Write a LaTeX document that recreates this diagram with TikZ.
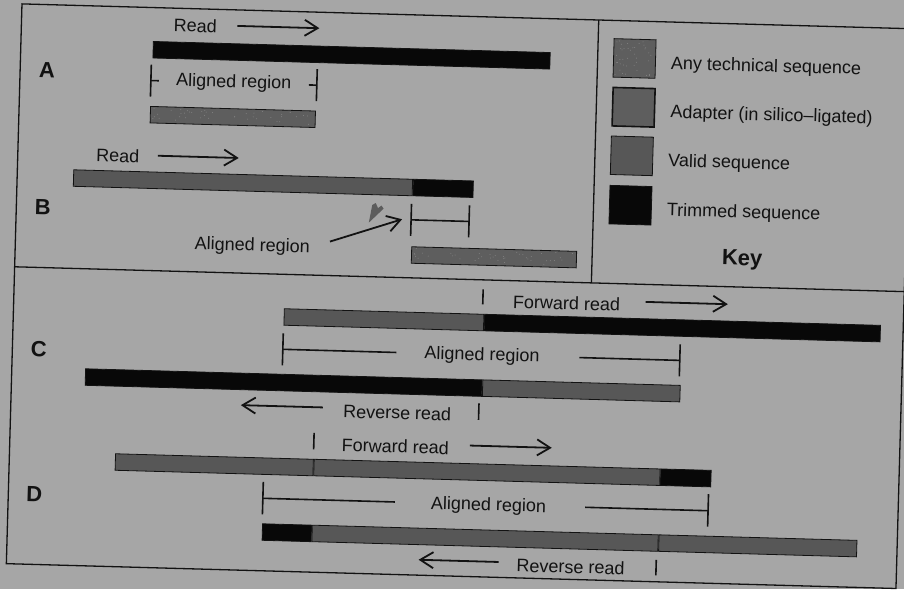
\documentclass[tikz,border=0pt]{standalone}
\usepackage{fontspec}
\setmainfont{Liberation Sans}
\usepackage{xcolor}
\usepackage{tikz}
\usetikzlibrary{arrows.meta, positioning}

\definecolor{paper}{gray}{0.65}
\definecolor{ink}{gray}{0.07}
\definecolor{validgray}{gray}{0.34}
\definecolor{techgray}{gray}{0.37}
\definecolor{trimblack}{gray}{0.03}
\definecolor{spotgray}{gray}{0.52}
\definecolor{smudge}{gray}{0.36}

% a few scan speckles inside a bar: x, y, width, height
\newcommand{\bardots}[4]{\foreach \k in {1,...,40} \fill[spotgray] ({#1+2+rnd*(#3-4)},{#2+2+rnd*(#4-4)}) circle (0.5);}

\begin{document}
\begin{tikzpicture}[
    x=1pt, y=-1pt,
    font=\fontsize{18}{21}\selectfont,
    every node/.style={text=ink},
    bar/.style={rectangle, draw=ink, line width=0.8pt, inner sep=0pt, minimum height=16.5pt, anchor=north west},
    validbar/.style={fill=validgray},
    techbar/.style={fill=techgray},
    trimbar/.style={fill=trimblack},
    swatch/.style={rectangle, draw=ink, line width=0.8pt, inner sep=0pt, minimum width=42pt, minimum height=38.5pt, anchor=north west},
    keytext/.style={anchor=west, inner sep=0pt},
    panel/.style={font=\fontsize{22}{26}\selectfont\bfseries},
    tick/.style={draw=ink, line width=1.6pt},
    frame/.style={draw=ink, line width=1.3pt},
    arrow/.style={-{Straight Barb[length=13pt, width=16pt]}, draw=ink, line width=1.8pt}
]
\pgfmathsetseed{11}
\fill[paper] (0,0) rectangle (904,589);
\useasboundingbox (0,0) rectangle (904,589);

\begin{scope}[rotate around={-1.6:(452,295)}, transform shape]

% Frame
\draw[frame] (14,16) rectangle (904,576);
\draw[frame] (14,279) -- (904,279);
\draw[frame] (591,16) -- (591,279);

% Panel A
\node[panel] (labA) at (41,82) {A};
\node (rdA) at (188,33) {Read};
\coordinate (rdA0) at (230,32);
\coordinate (rdA1) at (312,32);
\draw[arrow] (rdA0) -- (rdA1);
\node[bar, trimbar, minimum width=397pt] (readA) at (146,49.5) {};
\node (alA) at (228,89) {Aligned region};
\draw[tick] (145,73) -- (145,105);
\draw[tick] (145,89) -- (153,89);
\draw[tick] (311,73) -- (311,105);
\draw[tick] (303,89) -- (311,89);
\node[bar, techbar, minimum width=165pt] (techA) at (145,114.5) {};
\bardots{145}{114.5}{165}{16.5}

% Panel B
\node[panel] (labB) at (40.5,218.5) {B};
\node (rdB) at (114,165) {Read};
\coordinate (rdB0) at (154,164);
\coordinate (rdB1) at (235,164);
\draw[arrow] (rdB0) -- (rdB1);
\node[bar, validbar, minimum width=339pt] (readB) at (70,180) {};
\node[bar, trimbar, minimum width=60pt, right=0pt of readB] (trimB) {};
\draw[tick] (409,205) -- (409,237);
\draw[tick] (467,205) -- (467,237);
\draw[tick] (409,221) -- (467,221);
\node (alB) at (251,252) {Aligned region};
\coordinate (alBtail) at (328.5,245);
\coordinate (alBhead) at (400,220.7);
\draw[arrow] (alBtail) -- (alBhead);
\fill[smudge] (366.8,225) -- (369.8,207.2) -- (373.2,205.2) -- (375.6,210.2) -- (379,207.6) -- (381.2,210.6) -- cycle;
\node[bar, techbar, minimum width=165pt] (techB) at (410,247.5) {};
\bardots{410}{247.5}{165}{16.5}

% Key
\node[swatch, techbar] (key1) at (606.5,33.8) {};
\bardots{606.5}{33.8}{42}{38.5}
\node[swatch, techbar, line width=1.6pt] (key2) at (606.5,82.2) {};
\node[swatch, validbar] (key3) at (606.5,131.2) {};
\node[swatch, trimbar] (key4) at (606.5,180.6) {};
\node[keytext, right=15pt of key1, yshift=-5pt] (kt1) {Any technical sequence};
\node[keytext, right=15pt of key2, yshift=-5pt] (kt2) {Adapter (in silico--ligated)};
\node[keytext, right=15pt of key3, yshift=-5pt] (kt3) {Valid sequence};
\node[keytext, right=15pt of key4, yshift=-5pt] (kt4) {Trimmed sequence};
\node[panel] (keyhead) at (741,252) {Key};

% Panel C
\node[panel] (labC) at (40.5,361) {C};
\draw[tick] (483,288.5) -- (483,303.5);
\node (fwC) at (566.7,300) {Forward read};
\coordinate (fwC0) at (645.7,296.5);
\coordinate (fwC1) at (728,296.5);
\draw[arrow] (fwC0) -- (fwC1);
\node[bar, validbar, minimum width=199.6pt] (fwdC) at (284.4,313) {};
\node[bar, trimbar, minimum width=396pt, right=0pt of fwdC] (fwdCt) {};
\draw[tick] (284.4,338) -- (284.4,370);
\draw[tick] (284.4,354) -- (398,354);
\node (alC) at (483.8,355) {Aligned region};
\draw[tick] (581,354) -- (681.5,354);
\draw[tick] (681.5,338) -- (681.5,370);
\node[bar, trimbar, minimum width=396.6pt] (revCt) at (87.4,378.6) {};
\node[bar, validbar, minimum width=197.5pt, right=0pt of revCt] (revC) {};
\coordinate (rvC0) at (326,411);
\coordinate (rvC1) at (244,411);
\draw[arrow] (rvC0) -- (rvC1);
\node (rvC) at (400.5,414.2) {Reverse read};
\draw[tick] (482,402.5) -- (482,419);

% Panel D
\node[panel] (labD) at (40,506) {D};
\draw[tick] (318,436.6) -- (318,453.2);
\node (fwD) at (399.5,448) {Forward read};
\coordinate (fwD0) at (474,445);
\coordinate (fwD1) at (556,445);
\draw[arrow] (fwD0) -- (fwD1);
\node[bar, validbar, minimum width=197.9pt] (fwdD) at (119.7,462.7) {};
\node[bar, validbar, minimum width=346.1pt, right=0pt of fwdD] (fwdDm) {};
\node[bar, trimbar, minimum width=50.3pt, right=0pt of fwdDm] (fwdDt) {};
\draw[tick] (268.6,487) -- (268.6,519.5);
\draw[tick] (268.6,503.5) -- (400.6,503.5);
\node (alD) at (494.4,505) {Aligned region};
\draw[tick] (591,503.5) -- (714,503.5);
\draw[tick] (714,487) -- (714,519.5);
\node[bar, trimbar, minimum width=49pt] (revDt) at (268.6,528.6) {};
\node[bar, validbar, minimum width=346.1pt, right=0pt of revDt] (revDm) {};
\node[bar, validbar, minimum width=198pt, right=0pt of revDm] (revD) {};
\coordinate (rvD0) at (506,560.6);
\coordinate (rvD1) at (426,560.6);
\draw[arrow] (rvD0) -- (rvD1);
\node (rvD) at (578.2,563.4) {Reverse read};
\draw[tick] (663.6,554) -- (663.6,569.5);

\end{scope}
\end{tikzpicture}
\end{document}
